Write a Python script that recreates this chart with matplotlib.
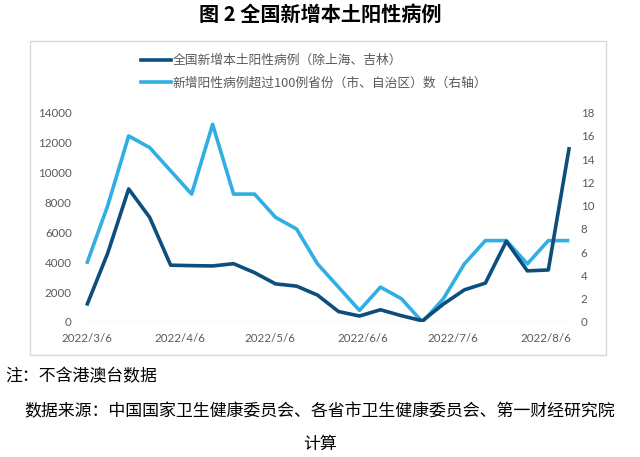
import matplotlib
matplotlib.use("Agg")
import matplotlib.pyplot as plt
import matplotlib.dates as mdates
from matplotlib.lines import Line2D
from matplotlib.patches import Rectangle
import datetime as dt

# ---------------- data ----------------
dates = ["2022-03-06", "2022-03-13", "2022-03-20", "2022-03-27", "2022-04-03",
         "2022-04-10", "2022-04-17", "2022-04-24", "2022-05-01", "2022-05-08",
         "2022-05-15", "2022-05-22", "2022-05-29", "2022-06-05", "2022-06-12",
         "2022-06-19", "2022-06-26", "2022-07-03", "2022-07-10", "2022-07-17",
         "2022-07-24", "2022-07-31", "2022-08-07", "2022-08-14"]
new_cases = [1100, 4600, 8900, 7000, 3800, 3770, 3750, 3900, 3300, 2550,
             2400, 1800, 700, 400, 820, 420, 80, 1200, 2150, 2600,
             5400, 3420, 3480, 11700]
provinces_over_100 = [5, 10, 16, 15, 13, 11, 17, 11, 11, 9,
                      8, 5, 3, 1, 3, 2, 0, 2, 5, 7,
                      7, 5, 7, 7]
tick_dates = ["2022-03-06", "2022-04-06", "2022-05-06", "2022-06-06",
              "2022-07-06", "2022-08-06"]
tick_labels = ["2022/3/6", "2022/4/6", "2022/5/6", "2022/6/6",
               "2022/7/6", "2022/8/6"]
left_ticks = [0, 2000, 4000, 6000, 8000, 10000, 12000, 14000]
right_ticks = [0, 2, 4, 6, 8, 10, 12, 14, 16, 18]
series_names = ["全国新增本土阳性病例（除上海、吉林）",
                "新增阳性病例超过100例省份（市、自治区）数（右轴）"]
title = "图 2 全国新增本土阳性病例"
note = "注：不含港澳台数据"
source1 = "数据来源：中国国家卫生健康委员会、各省市卫生健康委员会、第一财经研究院"
source2 = "计算"

# ---------------- style ----------------
DARK = "#0C4E7C"
LIGHT = "#31AEE3"
GREY_TXT = "#595959"
GRID = "#D9D9D9"
CJK = ["Noto Sans CJK SC", "DejaVu Sans"]
NUM = ["Lato", "DejaVu Sans"]

W, H = 640, 457
fig = plt.figure(figsize=(W / 100, H / 100), dpi=100)

def fx(px):
    return px / W

def fy(py):
    return 1 - py / H

# chart frame
fig.patches.append(Rectangle((fx(30), fy(355)), fx(606) - fx(30), fy(41) - fy(355),
                             transform=fig.transFigure, fill=False,
                             edgecolor=GRID, linewidth=1.0))

ax_left, ax_right, ax_top, ax_bot = 85, 571, 112.7, 322
ax = fig.add_axes([fx(ax_left), fy(ax_bot), fx(ax_right) - fx(ax_left), fy(ax_top) - fy(ax_bot)])
ax2 = ax.twinx()

x = [mdates.date2num(dt.datetime.strptime(d, "%Y-%m-%d")) for d in dates]
xt = [mdates.date2num(dt.datetime.strptime(d, "%Y-%m-%d")) for d in tick_dates]

l1, = ax.plot(x, new_cases, color=DARK, lw=2.6, solid_capstyle="butt", zorder=3)
l2, = ax2.plot(x, provinces_over_100, color=LIGHT, lw=2.6, solid_capstyle="butt", zorder=2)

ax.set_xlim(x[0] - 0.57, x[-1] + 0.57)
ax.set_ylim(0, 14000)
ax2.set_ylim(0, 18)
ax.set_yticks(left_ticks)
ax.set_yticklabels([str(v) for v in left_ticks])
ax2.set_yticks(right_ticks)
ax2.set_yticklabels([str(v) for v in right_ticks])
ax.set_xticks(xt)
ax.set_xticklabels(tick_labels)

for a in (ax, ax2):
    for s in a.spines.values():
        s.set_visible(False)
    a.patch.set_visible(False)
    a.tick_params(length=0, colors=GREY_TXT, labelsize=8.3)
ax.tick_params(axis="y", pad=9.5)
ax2.tick_params(axis="y", pad=7)
ax.tick_params(axis="x", pad=8)
for lab in ax.get_xticklabels() + ax.get_yticklabels() + ax2.get_yticklabels():
    lab.set_family(NUM)

ax.axhline(0, color=GRID, lw=1.0, zorder=1)
ax.set_zorder(ax2.get_zorder() + 1)

# legend
fig.legend([Line2D([], [], color=DARK, lw=2.6), Line2D([], [], color=LIGHT, lw=2.6)],
           series_names, loc="upper left", bbox_to_anchor=(fx(141), fy(54)),
           frameon=False, prop={"family": CJK, "size": 9.2},
           labelcolor=GREY_TXT, handlelength=2.35, handletextpad=0.15,
           borderpad=0, borderaxespad=0, labelspacing=0.75)

# title and notes
fig.text(0.5, fy(14), title, ha="center", va="center", family=CJK,
         fontsize=14.5, fontweight="bold", color="black")
fig.text(fx(5), fy(376), note, ha="left", va="center", family=CJK,
         fontsize=12.2, color="black")
fig.text(0.5, fy(411), source1, ha="center", va="center", family=CJK,
         fontsize=12.2, color="black")
fig.text(0.5, fy(444), source2, ha="center", va="center", family=CJK,
         fontsize=12.2, color="black")

fig.savefig("out.png", dpi=100)
